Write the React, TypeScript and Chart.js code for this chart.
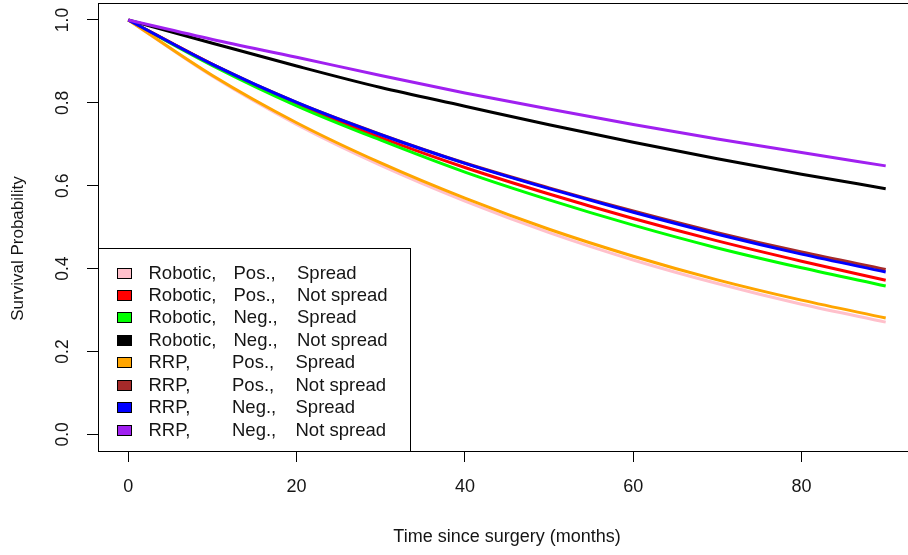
import { useEffect, useRef } from "react";
import { Chart, registerables } from "chart.js";

Chart.register(...registerables);

// ---------------- data ----------------
const TIME = [0, 10, 20, 30, 40, 50, 60, 70, 80, 90];

const ROBOTIC_POS_SPREAD = [1, 0.864, 0.748, 0.649, 0.563, 0.487, 0.421, 0.364, 0.314, 0.271];
const ROBOTIC_POS_NOTSPREAD = [1, 0.893, 0.797, 0.716, 0.644, 0.58, 0.521, 0.467, 0.418, 0.372];
const ROBOTIC_NEG_SPREAD = [1, 0.89, 0.793, 0.71, 0.633, 0.566, 0.505, 0.45, 0.402, 0.358];
const ROBOTIC_NEG_NOTSPREAD = [1, 0.944, 0.889, 0.837, 0.792, 0.747, 0.705, 0.665, 0.628, 0.593];
const RRP_POS_SPREAD = [1, 0.866, 0.752, 0.655, 0.57, 0.495, 0.43, 0.373, 0.324, 0.281];
const RRP_POS_NOTSPREAD = [1, 0.893, 0.801, 0.724, 0.655, 0.595, 0.539, 0.487, 0.44, 0.398];
const RRP_NEG_SPREAD = [1, 0.893, 0.801, 0.723, 0.654, 0.593, 0.536, 0.483, 0.435, 0.392];
const RRP_NEG_NOTSPREAD = [1, 0.953, 0.91, 0.866, 0.824, 0.785, 0.748, 0.713, 0.68, 0.648];

const SERIES = [
  ROBOTIC_POS_SPREAD,
  ROBOTIC_POS_NOTSPREAD,
  ROBOTIC_NEG_SPREAD,
  ROBOTIC_NEG_NOTSPREAD,
  RRP_POS_SPREAD,
  RRP_POS_NOTSPREAD,
  RRP_NEG_SPREAD,
  RRP_NEG_NOTSPREAD,
];

const SURGERY = ["Robotic,", "Robotic,", "Robotic,", "Robotic,", "RRP,", "RRP,", "RRP,", "RRP,"];
const MARGIN = ["Pos.,", "Pos.,", "Neg.,", "Neg.,", "Pos.,", "Pos.,", "Neg.,", "Neg.,"];
const SPREAD = ["Spread", "Not spread", "Spread", "Not spread", "Spread", "Not spread", "Spread", "Not spread"];

const COLORS = ["#FFC0CB", "#FF0000", "#00FF00", "#000000", "#FFA500", "#A52A2A", "#0000FF", "#A020F0"];

const X_TICKS = [0, 20, 40, 60, 80];
const Y_TICKS = [0, 0.2, 0.4, 0.6, 0.8, 1.0];
const X_TITLE = "Time since surgery (months)";
const Y_TITLE = "Survival Probability";

// ---------------- styling ----------------
const FONT = "'Liberation Sans', Arial, sans-serif";
const TEXT = "#151515";

const framePlugin = {
  id: "rframe",
  afterDatasetsDraw(chart: any) {
    const { ctx, chartArea } = chart;
    ctx.save();
    ctx.strokeStyle = "#000";
    ctx.lineWidth = 1;
    const l = Math.round(chartArea.left) + 0.5;
    const t = Math.round(chartArea.top) + 0.5;
    const r = Math.round(chartArea.right) + 0.5;
    const b = Math.round(chartArea.bottom) + 0.5;
    ctx.strokeRect(l, t, r - l, b - t);
    ctx.restore();
  },
};

const legendPlugin = {
  id: "rlegend",
  afterDatasetsDraw(chart: any) {
    const { ctx, chartArea } = chart;
    const left = Math.round(chartArea.left) + 0.5;
    const bottom = Math.round(chartArea.bottom) + 0.5;
    const top = bottom - 203;
    const right = left + 312;
    ctx.save();
    ctx.fillStyle = "#fff";
    ctx.fillRect(left, top, right - left, bottom - top);
    ctx.strokeStyle = "#000";
    ctx.lineWidth = 1;
    ctx.strokeRect(left, top, right - left, bottom - top);
    const rowH = 22.43;
    const firstY = top + 24.5;
    ctx.font = `18.5px ${FONT}`;
    ctx.textBaseline = "middle";
    ctx.textAlign = "left";
    chart.data.datasets.forEach((ds: any, i: number) => {
      const cy = firstY + rowH * i;
      const bx = Math.round(left + 18) + 0.5;
      const by = Math.round(cy - 5.5) + 0.5;
      ctx.fillStyle = ds.borderColor;
      ctx.fillRect(bx, by, 14, 10);
      ctx.strokeStyle = "#000";
      ctx.strokeRect(bx, by, 14, 10);
      ctx.fillStyle = TEXT;
      const isRRP = SURGERY[i].startsWith("RRP");
      ctx.fillText(SURGERY[i], left + 50, cy + 0.5);
      ctx.fillText(MARGIN[i], left + (isRRP ? 133.5 : 135), cy + 0.5);
      ctx.fillText(SPREAD[i], left + (isRRP ? 197 : 198.5), cy + 0.5);
    });
    ctx.restore();
  },
};

export default function App() {
  const ref = useRef<HTMLCanvasElement | null>(null);

  useEffect(() => {
    if (!ref.current) return;
    const datasets = SERIES.map((vals, i) => ({
      label: `${SURGERY[i]} ${MARGIN[i]} ${SPREAD[i]}`,
      data: TIME.map((t, k) => ({ x: t, y: vals[k] })),
      borderColor: COLORS[i],
      backgroundColor: COLORS[i],
      borderWidth: 3,
      pointRadius: 0,
      fill: false,
      cubicInterpolationMode: "monotone" as const,
      order: SERIES.length - 1 - i,
    }));

    const chart = new Chart(ref.current, {
      type: "line",
      data: { datasets },
      options: {
        animation: false,
        responsive: true,
        maintainAspectRatio: false,
        layout: { padding: { left: 0, top: 3.4, right: 14, bottom: 0 } },
        plugins: { legend: { display: false }, tooltip: { enabled: false } },
        scales: {
          x: {
            type: "linear",
            min: -3.6,
            max: 93.6,
            afterBuildTicks: (s: any) => {
              s.ticks = X_TICKS.map((v) => ({ value: v }));
            },
            afterFit: (s: any) => {
              s.height = 104;
              s.paddingLeft = 0;
              s.paddingRight = 0;
            },
            grid: {
              display: true,
              drawOnChartArea: false,
              drawTicks: true,
              tickLength: 11,
              tickColor: "#000",
              tickWidth: 1,
            },
            border: { display: false },
            ticks: {
              autoSkip: false,
              maxRotation: 0,
              minRotation: 0,
              padding: 14,
              color: TEXT,
              font: { family: FONT, size: 18 },
              callback: (v: any) => String(v),
            },
            title: {
              display: true,
              text: X_TITLE,
              color: TEXT,
              font: { family: FONT, size: 18 },
              padding: { top: 0, bottom: 7 },
            },
          },
          y: {
            type: "linear",
            min: -0.04,
            max: 1.04,
            afterBuildTicks: (s: any) => {
              s.ticks = Y_TICKS.map((v) => ({ value: v }));
            },
            afterFit: (s: any) => {
              s.width = 98;
              s.paddingTop = 0;
              s.paddingBottom = 0;
            },
            grid: {
              display: true,
              drawOnChartArea: false,
              drawTicks: true,
              tickLength: 11,
              tickColor: "#000",
              tickWidth: 1,
            },
            border: { display: false },
            ticks: {
              autoSkip: false,
              minRotation: 90,
              maxRotation: 90,
              crossAlign: "center",
              padding: 12,
              color: TEXT,
              font: { family: FONT, size: 17.5 },
              callback: (v: any) => Number(v).toFixed(1),
            },
            title: {
              display: true,
              text: Y_TITLE + "         ",
              color: TEXT,
              font: { family: FONT, size: 17 },
              padding: { top: 8, bottom: 0 },
            },
          },
        },
      },
      plugins: [framePlugin, legendPlugin],
    });
    return () => chart.destroy();
  }, []);

  return (
    <div
      style={{
        position: "fixed",
        left: 0,
        top: 0,
        width: 908,
        height: 555,
        overflow: "hidden",
        background: "#fff",
      }}
    >
      <div style={{ position: "relative", width: 930, height: 555 }}>
        <canvas ref={ref} />
      </div>
    </div>
  );
}
